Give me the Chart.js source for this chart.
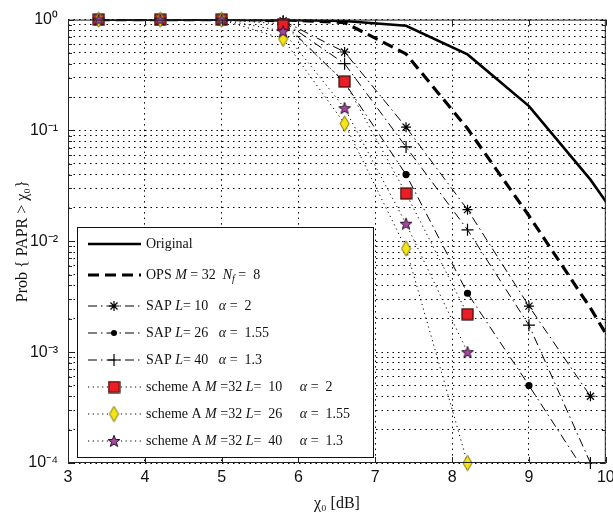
<!DOCTYPE html>
<html>
<head>
<meta charset="utf-8">
<script src="https://cdn.jsdelivr.net/npm/chart.js@4.4.0/dist/chart.umd.min.js"></script>
<style>
  html, body { margin: 0; padding: 0; background: #fff; }
  #wrap { width: 613px; height: 516px; }
</style>
</head>
<body>
<div id="wrap"><canvas id="paprChart" width="613" height="516"></canvas></div>
<script>
// chi_0 values in dB (curves sampled every 0.8 dB)
const xValues = [3.4, 4.2, 5.0, 5.8, 6.6, 7.4, 8.2, 9.0, 9.8, 10.6];

const original  = [1, 1, 1, 0.995, 0.97, 0.88, 0.485, 0.166, 0.036, 0.0059];
const ops       = [1, 1, 1, 0.995, 0.94, 0.49, 0.104, 0.017, 0.0025, 0.0003];
const sapL10    = [1, 1, 1, 0.975, 0.51, 0.107, 0.0193, 0.0026, 0.0004, null];
const sapL26    = [1, 1, 1, 0.95, 0.27, 0.040, 0.0034, 0.0005, 0.00007, null];
const sapL40    = [1, 1, 1, 0.965, 0.40, 0.071, 0.0127, 0.00175, 0.0001, null];
const schemeL10 = [1, 1, 1, 0.91, 0.276, 0.027, 0.0022, null, null, null];
const schemeL26 = [1, 1, 1, 0.67, 0.115, 0.0086, 0.0001, null, null, null];
const schemeL40 = [1, 1, 1, 0.785, 0.159, 0.0144, 0.001, null, null, null];

const xTickValues = [3, 4, 5, 6, 7, 8, 9, 10];
const yDecades = [1e-4, 1e-3, 1e-2, 1e-1, 1];
const yTickLabels = ['10⁻⁴', '10⁻³', '10⁻²', '10⁻¹', '10⁰'];

// legend text: [text, kind] kind: '' normal, 'i' italic, 's' italic subscript
const legendLabels = [
    [['Original', '']],
    [['OPS ', ''], ['M', 'i'], [' = 32  ', ''], ['N', 'i'], ['f', 's'], [' =  8', '']],
    [['SAP ', ''], ['L', 'i'], ['= 10   ', ''], ['α', 'i'], [' =  2', '']],
    [['SAP ', ''], ['L', 'i'], ['= 26   ', ''], ['α', 'i'], [' =  1.55', '']],
    [['SAP ', ''], ['L', 'i'], ['= 40   ', ''], ['α', 'i'], [' =  1.3', '']],
    [['scheme A ', ''], ['M', 'i'], [' =32 ', ''], ['L', 'i'], ['=  10     ', ''], ['α', 'i'], [' =  2', '']],
    [['scheme A ', ''], ['M', 'i'], [' =32 ', ''], ['L', 'i'], ['=  26     ', ''], ['α', 'i'], [' =  1.55', '']],
    [['scheme A ', ''], ['M', 'i'], [' =32 ', ''], ['L', 'i'], ['=  40     ', ''], ['α', 'i'], [' =  1.3', '']]
];

// marker images
const makeSquare = () => {
    const c = document.createElement('canvas');
    c.width = 13; c.height = 13;
    const g = c.getContext('2d');
    g.fillStyle = '#ec1d24';
    g.strokeStyle = '#2a0a0a';
    g.lineWidth = 1.2;
    g.fillRect(1, 1, 11, 11);
    g.strokeRect(1, 1, 11, 11);
    return c;
};
const makeDiamond = () => {
    const c = document.createElement('canvas');
    c.width = 11; c.height = 17;
    const g = c.getContext('2d');
    g.beginPath();
    g.moveTo(5.5, 0.8); g.lineTo(10, 8.5); g.lineTo(5.5, 16.2); g.lineTo(1, 8.5);
    g.closePath();
    g.fillStyle = '#f4e515';
    g.fill();
    g.strokeStyle = '#6b6000';
    g.lineWidth = 0.9;
    g.stroke();
    return c;
};
const makeStar = () => {
    const c = document.createElement('canvas');
    c.width = 14; c.height = 14;
    const g = c.getContext('2d');
    g.beginPath();
    for (let i = 0; i < 10; i++) {
        const r = i % 2 ? 2.6 : 6.2;
        const a = -Math.PI / 2 + i * Math.PI / 5;
        g.lineTo(7 + r * Math.cos(a), 7.5 + r * Math.sin(a));
    }
    g.closePath();
    g.fillStyle = '#a3469c';
    g.fill();
    g.strokeStyle = '#2b1028';
    g.lineWidth = 1;
    g.stroke();
    return c;
};

const squareImg = makeSquare();
const diamondImg = makeDiamond();
const starImg = makeStar();

const series = [
    { data: original,  width: 2.6, dash: [] },
    { data: ops,       width: 3.2, dash: [11, 6] },
    { data: sapL10,    width: 1,   dash: [9, 4, 1.5, 4], marker: 'star', radius: 5 },
    { data: sapL26,    width: 1,   dash: [9, 4, 1.5, 4], marker: 'circle', radius: 3 },
    { data: sapL40,    width: 1,   dash: [9, 4, 1.5, 4], marker: 'cross', radius: 6 },
    { data: schemeL10, width: 1,   dash: [1.2, 3.5], marker: squareImg, radius: 6 },
    { data: schemeL26, width: 1,   dash: [1.2, 3.5], marker: diamondImg, radius: 6 },
    { data: schemeL40, width: 1,   dash: [1.2, 3.5], marker: starImg, radius: 6 }
];

const toPoints = (arr) => xValues.map((x, i) => ({ x: x, y: arr[i] }));

const datasets = [];
series.forEach((s, i) => {
    datasets.push({
        data: toPoints(s.data),
        borderColor: '#000',
        borderWidth: s.width,
        borderDash: s.dash,
        pointRadius: 0,
        tension: 0,
        fill: false,
        order: 100 - 2 * i
    });
    if (s.marker) {
        datasets.push({
            data: toPoints(s.data),
            showLine: false,
            pointStyle: s.marker,
            pointRadius: s.radius,
            pointBorderColor: '#000',
            pointBackgroundColor: '#000',
            pointBorderWidth: 1.2,
            clip: false,
            order: 99 - 2 * i
        });
    }
});

// y grid at 1..9 x 10^k
const yGridValues = [];
for (let e = -4; e < 0; e++) {
    for (let m = 1; m < 10; m++) yGridValues.push(m * Math.pow(10, e));
}
yGridValues.push(1);

const isDecade = (v) => Math.abs(Math.log10(v) - Math.round(Math.log10(v))) < 1e-9;

const drawLegendMarker = (ctx, style, r, x, y) => {
    ctx.save();
    ctx.strokeStyle = '#000';
    ctx.fillStyle = '#000';
    ctx.lineWidth = 1.2;
    ctx.setLineDash([]);
    if (typeof style === 'object') {
        ctx.drawImage(style, x - style.width / 2, y - style.height / 2);
    } else if (style === 'circle') {
        ctx.beginPath(); ctx.arc(x, y, r, 0, Math.PI * 2); ctx.fill();
    } else {
        ctx.beginPath();
        ctx.moveTo(x - r, y); ctx.lineTo(x + r, y);
        ctx.moveTo(x, y - r); ctx.lineTo(x, y + r);
        if (style === 'star') {
            const d = r * Math.SQRT1_2;
            ctx.moveTo(x - d, y - d); ctx.lineTo(x + d, y + d);
            ctx.moveTo(x - d, y + d); ctx.lineTo(x + d, y - d);
        }
        ctx.stroke();
    }
    ctx.restore();
};

const frameAndLegend = {
    id: 'frameAndLegend',
    afterDatasetsDraw(chart) {
        const ctx = chart.ctx;
        const a = chart.chartArea;
        const xs = chart.scales.x;
        const ys = chart.scales.y;
        ctx.save();
        ctx.strokeStyle = '#222';
        ctx.lineWidth = 1;
        ctx.setLineDash([]);
        ctx.strokeRect(a.left + 0.5, a.top + 0.5, a.right - a.left - 1, a.bottom - a.top - 1);
        ctx.beginPath();
        xTickValues.forEach(v => {
            const px = Math.round(xs.getPixelForValue(v)) + 0.5;
            ctx.moveTo(px, a.bottom); ctx.lineTo(px, a.bottom - 6);
            ctx.moveTo(px, a.top); ctx.lineTo(px, a.top + 6);
        });
        yGridValues.forEach(v => {
            const py = Math.round(ys.getPixelForValue(v)) + 0.5;
            const len = isDecade(v) ? 6 : 4;
            ctx.moveTo(a.left, py); ctx.lineTo(a.left + len, py);
            ctx.moveTo(a.right, py); ctx.lineTo(a.right - len, py);
        });
        ctx.stroke();

        // legend box
        const lx = 77, ly = 227, lw = 296, lh = 230;
        ctx.fillStyle = '#fff';
        ctx.fillRect(lx, ly, lw, lh);
        ctx.strokeStyle = '#111';
        ctx.strokeRect(lx + 0.5, ly + 0.5, lw, lh);
        const rowY = [17, 48, 79, 106, 133, 160, 187, 214];
        series.forEach((s, i) => {
            const y = ly + rowY[i];
            ctx.save();
            ctx.strokeStyle = '#000';
            ctx.lineWidth = s.width;
            ctx.setLineDash(s.dash);
            ctx.beginPath();
            ctx.moveTo(88, y); ctx.lineTo(141, y);
            ctx.stroke();
            ctx.restore();
            if (s.marker) drawLegendMarker(ctx, s.marker, s.radius, 114, y);
            let tx = 146;
            ctx.fillStyle = '#111';
            ctx.textBaseline = 'middle';
            ctx.textAlign = 'left';
            legendLabels[i].forEach(([t, kind]) => {
                const size = kind === 's' ? 10 : 14;
                ctx.font = (kind ? 'italic ' : '') + size + 'px "Liberation Serif"';
                ctx.fillText(t, tx, y + (kind === 's' ? 4 : 0));
                tx += ctx.measureText(t).width;
            });
        });
        ctx.restore();
    }
};

new Chart(document.getElementById('paprChart').getContext('2d'), {
    type: 'line',
    data: { datasets: datasets },
    options: {
        responsive: false,
        animation: false,
        devicePixelRatio: 1,
        layout: { padding: { top: 19, right: 6, left: 0, bottom: 0 } },
        plugins: { legend: { display: false }, tooltip: { enabled: false } },
        scales: {
            x: {
                type: 'linear',
                min: 3,
                max: 10,
                afterFit: (scale) => { scale.height = 53; scale.paddingLeft = 0; scale.paddingRight = 0; },
                ticks: {
                    stepSize: 1,
                    autoSkip: false,
                    maxRotation: 0,
                    padding: 5,
                    color: '#111',
                    font: { family: 'Liberation Sans', size: 16 },
                    callback: (v) => String(v)
                },
                grid: { color: '#000', lineWidth: 1, drawTicks: false },
                border: { display: false, dash: [1.5, 4] },
                title: {
                    display: true,
                    text: 'χ₀ [dB]',
                    color: '#111',
                    font: { family: 'Liberation Serif', size: 16 },
                    padding: { top: 0, bottom: 3 }
                }
            },
            y: {
                type: 'logarithmic',
                min: 1e-4,
                max: 1,
                afterFit: (scale) => { scale.width = 68; },
                afterBuildTicks: (scale) => {
                    scale.ticks = yGridValues.map(v => ({ value: v, major: isDecade(v) }));
                },
                ticks: {
                    autoSkip: false,
                    padding: 10,
                    color: '#111',
                    font: { family: 'Liberation Sans', size: 16 },
                    callback: (v) => {
                        if (!isDecade(v)) return '';
                        return yTickLabels[yDecades.findIndex(d => Math.abs(Math.log10(d) - Math.log10(v)) < 1e-9)];
                    }
                },
                grid: { color: '#000', lineWidth: 1, drawTicks: false },
                border: { display: false, dash: [1.5, 4] },
                title: {
                    display: true,
                    text: 'Prob { PAPR > χ₀}',
                    color: '#111',
                    font: { family: 'Liberation Serif', size: 16 },
                    padding: { top: 13, bottom: 0 }
                }
            }
        }
    },
    plugins: [frameAndLegend]
});
</script>
</body>
</html>
